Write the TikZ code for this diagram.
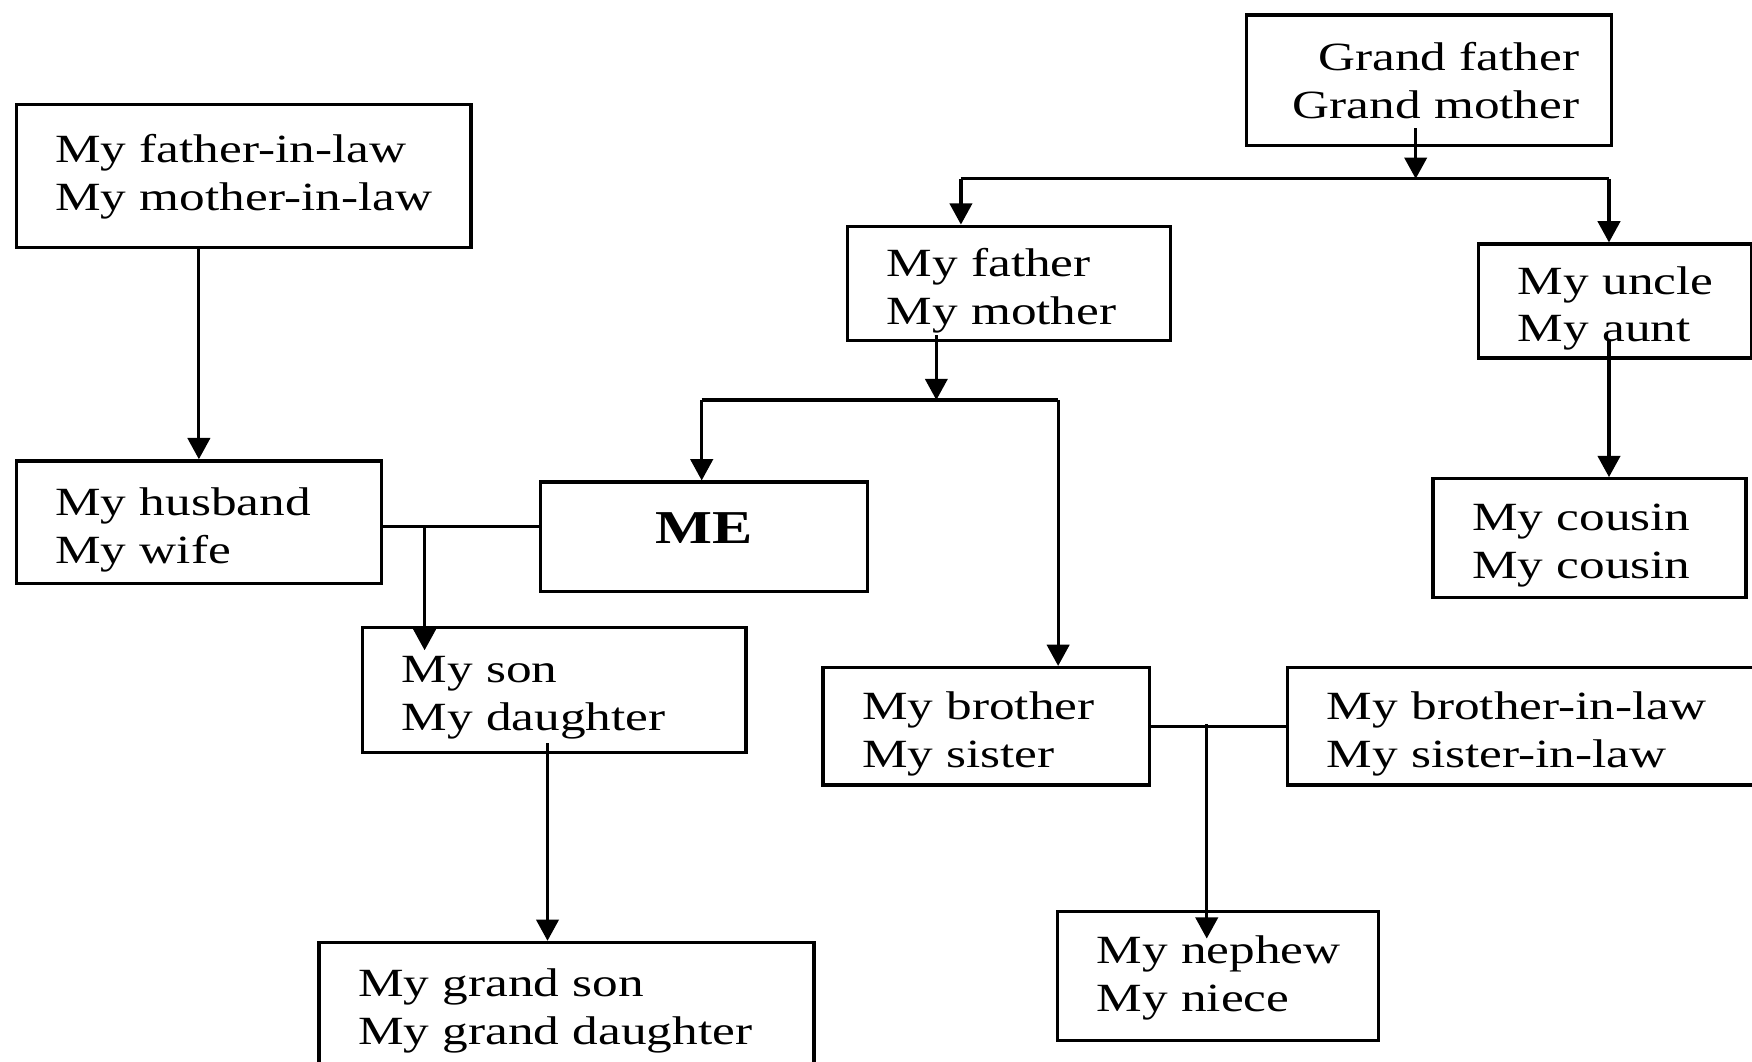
\documentclass[tikz,border=0pt]{standalone}
\usepackage{fontspec}
\setmainfont{Liberation Serif}[FakeStretch=1.28]
\usetikzlibrary{arrows.meta, positioning}

\tikzset{
  kinbox/.style={draw, line width=0.85pt, rectangle, anchor=north west,
    inner xsep=0pt, inner ysep=0pt,
    font=\fontsize{10.2}{12.2}\selectfont},
  kin/.style={kinbox, align=left, text height=0.38cm,
    execute at begin node={\leftskip=0.35cm\relax}},
  link/.style={line width=0.8pt},
  tip/.style={link, -{Triangle[length=0.19cm, width=0.2cm]}},
}

\begin{document}
\begin{tikzpicture}
    \useasboundingbox (0,0) rectangle (15.68,9.50);

    % Grandparents and their children
    \node[kinbox, align=right, inner xsep=0.29cm, text width=2.69cm, minimum height=1.17cm] (gp) at (11.14,9.38) {Grand father\\Grand mother};
    \node[kin, text width=2.89cm, minimum height=1.02cm] (parents) at (7.57,7.49) {My father\\My mother};
    \node[kin, text width=2.44cm, minimum height=1.02cm] (uncle) at (13.22,7.33) {My uncle\\My aunt};
    \node[kin, text width=2.80cm, minimum height=1.06cm] (cousin) at (12.81,5.23) {My cousin\\My cousin};

    % In-laws side
    \node[kin, text height=0.27cm, text width=4.07cm, minimum height=1.28cm] (inlaw) at (0.13,8.58) {My father-in-law\\My mother-in-law};
    \node[kin, text width=3.27cm, minimum height=1.10cm] (spouse) at (0.13,5.39) {My husband\\My wife};

    % Me
    \node[kinbox, align=center, text width=2.93cm, minimum height=0.98cm, text depth=0.16cm,
      font=\fontsize{12}{14}\selectfont\bfseries] (me) at (4.82,5.20) {ME};

    % Descendants
    \node[kin, text width=3.43cm, minimum height=1.12cm] (child) at (3.23,3.90) {My son\\My daughter};
    \node[kin, text width=4.43cm, minimum height=1.10cm] (gchild) at (2.84,1.08) {My grand son\\My grand daughter};

    % Siblings
    \node[kin, text width=2.92cm, minimum height=1.05cm] (sibling) at (7.35,3.54) {My brother\\My sister};
    \node[kin, text width=4.19cm, minimum height=1.05cm] (siblaw) at (11.51,3.54) {My brother-in-law\\My sister-in-law};
    \node[kin, text height=0.28cm, text width=2.87cm, minimum height=1.16cm] (nephew) at (9.45,1.36) {My nephew\\My niece};

    % Junction points
    \coordinate (gpstem) at (12.67,8.35);
    \coordinate (gpbar) at (12.67,7.90);
    \coordinate (gpL) at (8.60,7.90);
    \coordinate (gpR) at (14.40,7.90);
    \coordinate (parstem) at (8.38,6.50);
    \coordinate (parbar) at (8.38,5.92);
    \coordinate (parL) at (6.28,5.92);
    \coordinate (parR) at (9.47,5.92);
    \coordinate (uncstem) at (14.40,6.45);
    \coordinate (wed) at (3.80,4.79);
    \coordinate (wedtip) at (3.80,3.68);
    \coordinate (chstem) at (4.90,2.85);
    \coordinate (sibj) at (10.80,3.02);
    \coordinate (sibtip) at (10.80,1.10);

    % Grandparents down to father / uncle
    \draw[tip] (gpstem) -- (gpbar);
    \draw[link] (gpL) -- (gpR);
    \draw[tip] (gpL) -- (gpL |- parents.north);
    \draw[tip] (gpR) -- (gpR |- uncle.north);
    \draw[tip] (uncstem) -- (uncstem |- cousin.north);

    % Parents down to me / brother
    \draw[tip] (parstem) -- (parbar);
    \draw[link] (parL) -- (parR);
    \draw[tip] (parL) -- (parL |- me.north);
    \draw[tip] (parR) -- (parR |- sibling.north);

    % In-laws down to spouse
    \draw[tip] (inlaw.south -| spouse.north) -- (spouse.north);

    % Marriage line and children
    \draw[link] (spouse.east |- wed) -- (me.west |- wed);
    \draw[tip] (wed) -- (wedtip);
    \draw[tip] (chstem) -- (chstem |- gchild.north);

    % Siblings and their children
    \draw[link] (sibling.east) -- (siblaw.west);
    \draw[tip] (sibj) -- (sibtip);

\end{tikzpicture}
\end{document}
